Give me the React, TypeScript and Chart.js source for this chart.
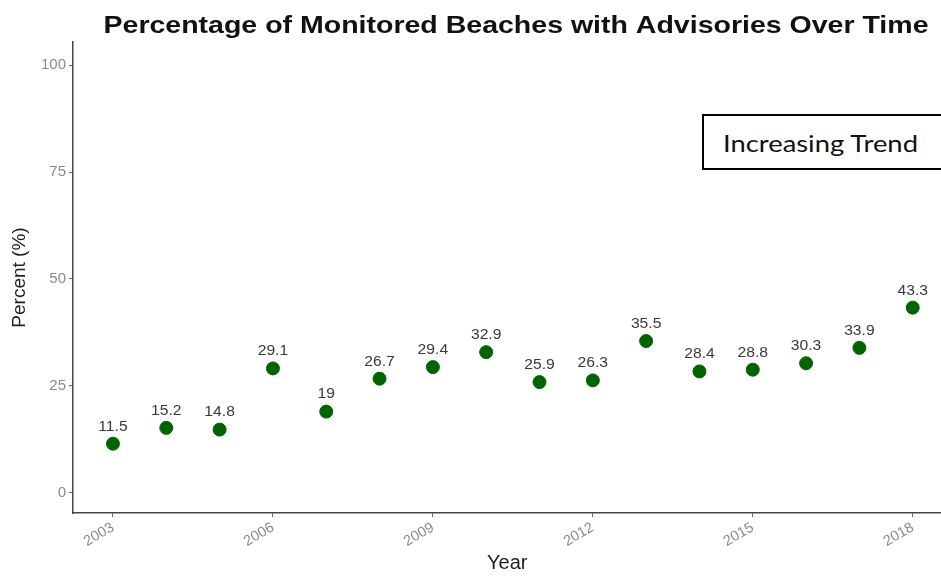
import React, { useEffect, useRef } from "react";
import { Chart, registerables } from "chart.js";

Chart.register(...registerables);

const years = [2003, 2004, 2005, 2006, 2007, 2008, 2009, 2010, 2011, 2012, 2013, 2014, 2015, 2016, 2017, 2018];
const percents = [11.5, 15.2, 14.8, 29.1, 19, 26.7, 29.4, 32.9, 25.9, 26.3, 35.5, 28.4, 28.8, 30.3, 33.9, 43.3];
const xTickValues = [2003, 2006, 2009, 2012, 2015, 2018];
const yTickValues = [0, 25, 50, 75, 100];
const titleText = "Percentage of Monitored Beaches with Advisories Over Time";
const annotationText = "Increasing Trend";

const FONT = "'Liberation Sans', Arial, sans-serif";

const valueLabels = {
  id: "valueLabels",
  afterDatasetsDraw(chart: any) {
    const ctx = chart.ctx;
    const meta = chart.getDatasetMeta(0);
    ctx.save();
    ctx.font = `14px ${FONT}`;
    ctx.fillStyle = "#3a3a3a";
    ctx.textAlign = "center";
    ctx.textBaseline = "middle";
    meta.data.forEach((pt: any, i: number) => {
      const label = String(percents[i]);
      ctx.save();
      ctx.translate(pt.x, pt.y - 17);
      ctx.scale(1.12, 1);
      ctx.fillText(label, 0, 0);
      ctx.restore();
    });
    ctx.restore();
  },
  afterDraw(chart: any) {
    const ctx = chart.ctx;
    ctx.save();
    ctx.font = `bold 24px ${FONT}`;
    ctx.fillStyle = "#111";
    ctx.textAlign = "center";
    ctx.textBaseline = "alphabetic";
    const w = ctx.measureText(titleText).width;
    const sx = 825 / w;
    ctx.translate(516, 33);
    ctx.scale(sx, 1);
    ctx.fillText(titleText, 0, 0);
    ctx.restore();
  },
};

export default function App() {
  const ref = useRef<HTMLCanvasElement>(null);
  useEffect(() => {
    document.body.style.margin = "0";
    const chart = new Chart(ref.current!, {
      type: "scatter",
      data: {
        datasets: [
          {
            data: years.map((y, i) => ({ x: y, y: percents[i] })),
            backgroundColor: "#006400",
            borderColor: "#006400",
            pointRadius: 6.5,
            pointHoverRadius: 6.5,
          },
        ],
      },
      options: {
        animation: false,
        responsive: false,
        maintainAspectRatio: false,
        layout: { padding: { top: 42, left: 0, right: 0, bottom: 0 } },
        plugins: {
          legend: { display: false },
          tooltip: { enabled: false },
          title: { display: false },
        },
        scales: {
          x: {
            type: "linear",
            min: 2002.25,
            max: 2018.54,
            afterBuildTicks: (s: any) => {
              s.ticks = xTickValues.map((v) => ({ value: v }));
            },
            afterFit: (s: any) => {
              s.height = 63;
              s.paddingLeft = 0;
              s.paddingRight = 0;
            },
            ticks: {
              minRotation: 30,
              maxRotation: 30,
              color: "#8a8a8a",
              font: { size: 14.5, family: FONT },
              padding: 2,
              callback: (v: any) => String(v),
            },
            grid: { drawOnChartArea: false, tickLength: 4, color: "#666" },
            border: { color: "#444", width: 1.5 },
            title: {
              display: true,
              text: "Year",
              color: "#222",
              font: { size: 20, family: FONT },
              padding: { top: 0, bottom: 1 },
            },
          },
          y: {
            min: -4.7,
            max: 105.4,
            afterBuildTicks: (s: any) => {
              s.ticks = yTickValues.map((v) => ({ value: v }));
            },
            afterFit: (s: any) => {
              s.width = 73;
              s.paddingTop = 0;
              s.paddingBottom = 0;
            },
            ticks: {
              color: "#8a8a8a",
              font: { size: 15, family: FONT },
              padding: 3,
            },
            grid: { drawOnChartArea: false, tickLength: 4, color: "#666" },
            border: { color: "#444", width: 1.5 },
            title: {
              display: true,
              text: "Percent (%)",
              color: "#222",
              font: { size: 19, family: FONT },
              padding: { top: 8, bottom: 0 },
            },
          },
        },
      },
      plugins: [valueLabels],
    } as any);
    return () => chart.destroy();
  }, []);

  return (
    <div style={{ position: "relative", width: 941, height: 576, overflow: "hidden", background: "#fff" }}>
      <canvas ref={ref} width={949} height={576} style={{ display: "block" }} />
      <div
        style={{
          position: "absolute",
          left: 702,
          top: 114,
          width: 260,
          height: 52,
          border: "2px solid #000",
          background: "#fff",
          boxSizing: "content-box",
        }}
      >
        <div
          style={{
            position: "absolute",
            left: 19,
            top: 0,
            lineHeight: "54px",
            fontFamily: "Lato, 'Open Sans', sans-serif",
            fontSize: 23,
            color: "#111",
            whiteSpace: "nowrap",
            transform: "scaleX(1.19)",
            transformOrigin: "left center",
          }}
        >
          {annotationText}
        </div>
      </div>
    </div>
  );
}
